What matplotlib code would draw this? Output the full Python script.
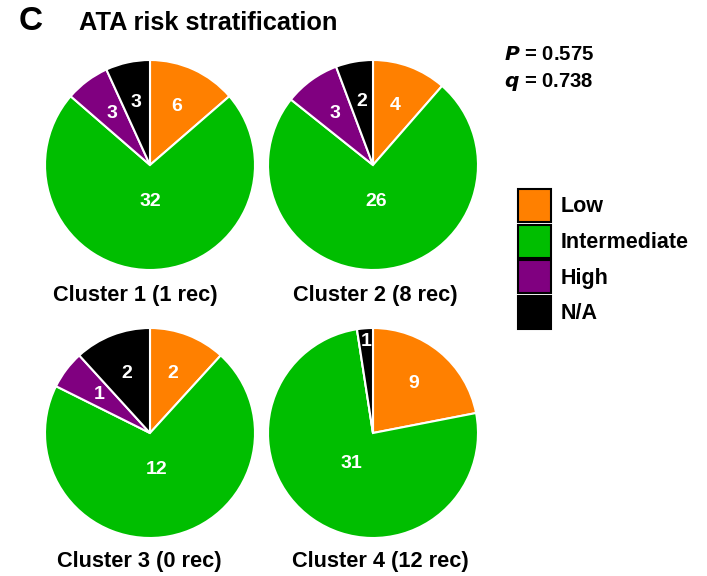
import numpy as np
import matplotlib.pyplot as plt
from matplotlib.patches import Patch

plt.rcParams['font.family'] = ['Liberation Sans', 'DejaVu Sans']
plt.rcParams['font.weight'] = 'bold'

# ---- data ----
categories = ["Low", "Intermediate", "High", "N/A"]
colors = ["#FF8000", "#00BE00", "#800080", "#000000"]
cluster_names = ["Cluster 1 (1 rec)", "Cluster 2 (8 rec)",
                 "Cluster 3 (0 rec)", "Cluster 4 (12 rec)"]
cluster1 = [6, 32, 3, 3]
cluster2 = [4, 26, 3, 2]
cluster3 = [2, 12, 1, 2]
cluster4 = [9, 31, 0, 1]
counts = [cluster1, cluster2, cluster3, cluster4]

W, H = 707, 576
fig = plt.figure(figsize=(W / 100, H / 100), dpi=100)

# pie centres in pixels (from top-left), radius in pixels
centres = [(150, 165), (373, 165), (150, 433), (373, 433)]
caption_pos = [(135, 296), (375, 296), (139, 562), (380, 562)]
R = 105
pad = 1.04

for (cx, cy), (tx, ty), vals, name in zip(centres, caption_pos, counts, cluster_names):
    half = R * pad
    ax = fig.add_axes([(cx - half) / W, (H - cy - half) / H, 2 * half / W, 2 * half / H])
    wedges, _ = ax.pie(vals, colors=colors, startangle=90, counterclock=False,
                       radius=1, wedgeprops=dict(edgecolor="white", linewidth=1.5))
    total = sum(vals)
    for w, v in zip(wedges, vals):
        if v == 0:
            continue
        frac = v / total
        ang = np.deg2rad((w.theta1 + w.theta2) / 2)
        # big slices get their number nearer the centre, slivers near the rim
        r = 0.35 if frac > 0.5 else (0.87 if frac < 0.03 else 0.61)
        ax.text(r * np.cos(ang), r * np.sin(ang), str(v), color="white",
                fontsize=14, fontweight="bold", ha="center", va="center")
    ax.set_xlim(-pad, pad)
    ax.set_ylim(-pad, pad)
    ax.set_aspect("equal")
    ax.axis("off")
    # cluster caption under each pie
    fig.text(tx / W, 1 - ty / H, name, fontsize=15.7, fontweight="bold",
             ha="center", va="center")

# ---- panel letter and title ----
fig.text(19 / W, 1 - 22 / H, "C", fontsize=24, fontweight="bold", ha="left", va="center")
fig.text(79 / W, 1 - 23 / H, "ATA risk stratification", fontsize=18.3,
         fontweight="bold", ha="left", va="center")

# ---- stats ----
fig.text(504 / W, 1 - 55 / H, r"$\bfit{P}$ = 0.575", fontsize=14.6, fontweight="bold",
         ha="left", va="center")
fig.text(504 / W, 1 - 82 / H, r"$\bfit{q}$ = 0.738", fontsize=14.6, fontweight="bold",
         ha="left", va="center")

# ---- legend ----
handles = [Patch(facecolor=c, edgecolor="black", linewidth=1.5) for c in colors]
fig.legend(handles, categories, loc="upper left", bbox_to_anchor=(518 / W, 1 - 189 / H),
           frameon=False, handlelength=1.53, handleheight=1.985,
           handletextpad=0.45, labelspacing=0.12, borderpad=0, borderaxespad=0,
           prop=dict(weight="bold", size=15.5))

plt.savefig("out.png", dpi=100)
